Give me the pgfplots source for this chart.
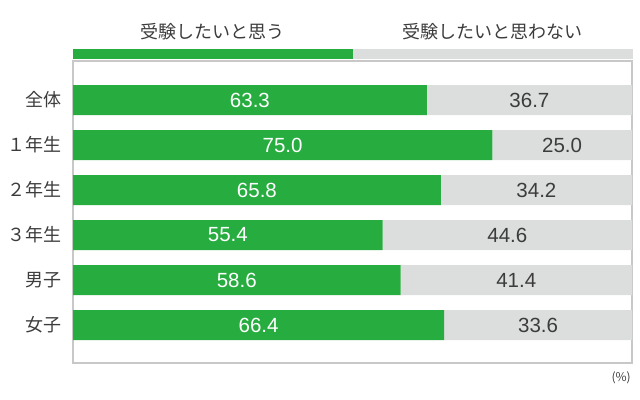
\documentclass[border=0pt]{standalone}
\usepackage{pgfplots}
\pgfplotsset{compat=1.18}
\usepackage{fontspec}
\setmainfont{Noto Sans CJK JP}
\newfontfamily\numfont{Liberation Sans}
\definecolor{cgreen}{HTML}{27AC3F}
\definecolor{cgray}{HTML}{DCDDDD}
\definecolor{ctext}{HTML}{3C3C3C}
\definecolor{cframe}{HTML}{C8C8C8}
\begin{document}
\begin{tikzpicture}
\path[use as bounding box] (0,0) rectangle (640bp,400bp);
\begin{axis}[
  at={(73bp,37bp)}, anchor=south west,
  scale only axis, width=559bp, height=302bp,
  xbar stacked, bar width=30bp,
  xmin=0, xmax=100,
  ymin=-0.8667, ymax=5.844, y dir=reverse,
  ytick={0,1,2,3,4,5},
  yticklabels={全体,１年生,２年生,３年生,男子,女子},
  yticklabel style={font=\fontsize{18bp}{20bp}\selectfont, text=ctext, inner sep=0pt, xshift=-11bp},
  xtick=\empty,
  major tick length=0pt,
  ytick style={draw=none},
  axis line style={cframe, line width=1.2bp},
  clip=false,
  /pgf/number format/assume math mode=true,
  point meta=rawx,
  nodes near coords={\pgfmathprintnumber[fixed,fixed zerofill,precision=1]{\pgfplotspointmeta}},
  every node near coord/.append style={anchor=center, font=\numfont\fontsize{20.5bp}{22bp}\selectfont},
]
\addplot[fill=cgreen, draw=none, every node near coord/.append style={text=white}] coordinates {
(63.3,0) (75.0,1) (65.8,2) (55.4,3) (58.6,4) (66.4,5)};
\addplot[fill=cgray, draw=none, every node near coord/.append style={text=ctext}] coordinates {
(36.7,0) (25.0,1) (34.2,2) (44.6,3) (41.4,4) (33.6,5)};
% legend
\fill[cgreen] (axis cs:0,-1.133) rectangle (axis cs:50,-0.911);
\fill[cgray] (axis cs:50,-1.133) rectangle (axis cs:100.2,-0.911);
\node[text=ctext, font=\fontsize{18bp}{20bp}\selectfont] at (axis cs:25,-1.511) {受験したいと思う};
\node[text=ctext, font=\fontsize{18bp}{20bp}\selectfont] at (axis cs:75,-1.511) {受験したいと思わない};
\node[text=ctext, anchor=east, inner sep=0pt, font=\fontsize{12bp}{14bp}\selectfont] at (axis cs:99.8,6.18) {(\%)};
\end{axis}
\end{tikzpicture}
\end{document}
